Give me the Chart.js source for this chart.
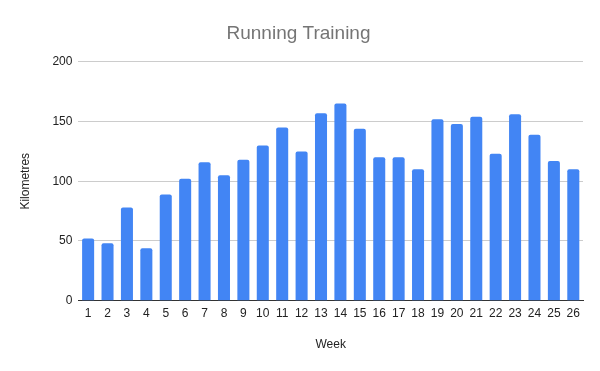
<!DOCTYPE html>
<html>
<head>
<meta charset="utf-8">
<script src="https://cdn.jsdelivr.net/npm/chart.js@4"></script>
<style>
  html, body { margin: 0; padding: 0; background: #fff; }
  #myChart { display: block; }
</style>
</head>
<body>
<canvas id="myChart" width="600" height="371"></canvas>
<script>
const weeks = ['1','2','3','4','5','6','7','8','9','10','11','12','13','14','15','16','17','18','19','20','21','22','23','24','25','26'];
const kilometres = [52, 48, 78, 44, 89, 102, 116, 105, 118, 130, 145, 125, 157, 165, 144, 120, 120, 110, 152, 148, 154, 123, 156, 139, 117, 110];
const yTicks = [0, 50, 100, 150, 200];

const ctx = document.getElementById('myChart');
const font = "Arial, 'Liberation Sans', sans-serif";

new Chart(ctx, {
    type: 'bar',
    data: {
        labels: weeks,
        datasets: [{
            label: 'Kilometres',
            data: kilometres,
            backgroundColor: '#4285F4',
            borderRadius: { topLeft: 2, topRight: 2 },
            borderSkipped: 'bottom',
            categoryPercentage: 0.62,
            barPercentage: 1
        }]
    },
    options: {
        responsive: false,
        animation: false,
        layout: { padding: { left: 14, right: 17, top: 6, bottom: 19 } },
        plugins: {
            legend: { display: false },
            tooltip: { enabled: false },
            title: {
                display: true,
                text: 'Running Training',
                color: '#757575',
                font: { family: font, size: 19, weight: 'normal' },
                padding: { top: 16, bottom: 17 }
            }
        },
        scales: {
            x: {
                grid: { display: false, drawTicks: false },
                border: { color: '#333333', width: 1 },
                ticks: { color: '#222', font: { family: font, size: 12 }, padding: 6, maxRotation: 0, autoSkip: false },
                title: { display: true, text: 'Week', color: '#222', font: { family: font, size: 12 }, padding: { top: 10.5, bottom: 0 } }
            },
            y: {
                min: 0,
                max: 200,
                afterBuildTicks: axis => { axis.ticks = yTicks.map(v => ({ value: v })); },
                grid: { color: '#cccccc', drawTicks: false },
                border: { display: false },
                ticks: { color: '#222', font: { family: font, size: 12 }, padding: 6 },
                title: { display: true, text: 'Kilometres', color: '#222', font: { family: font, size: 12 }, padding: { bottom: 14 } }
            }
        }
    }
});
</script>
</body>
</html>
